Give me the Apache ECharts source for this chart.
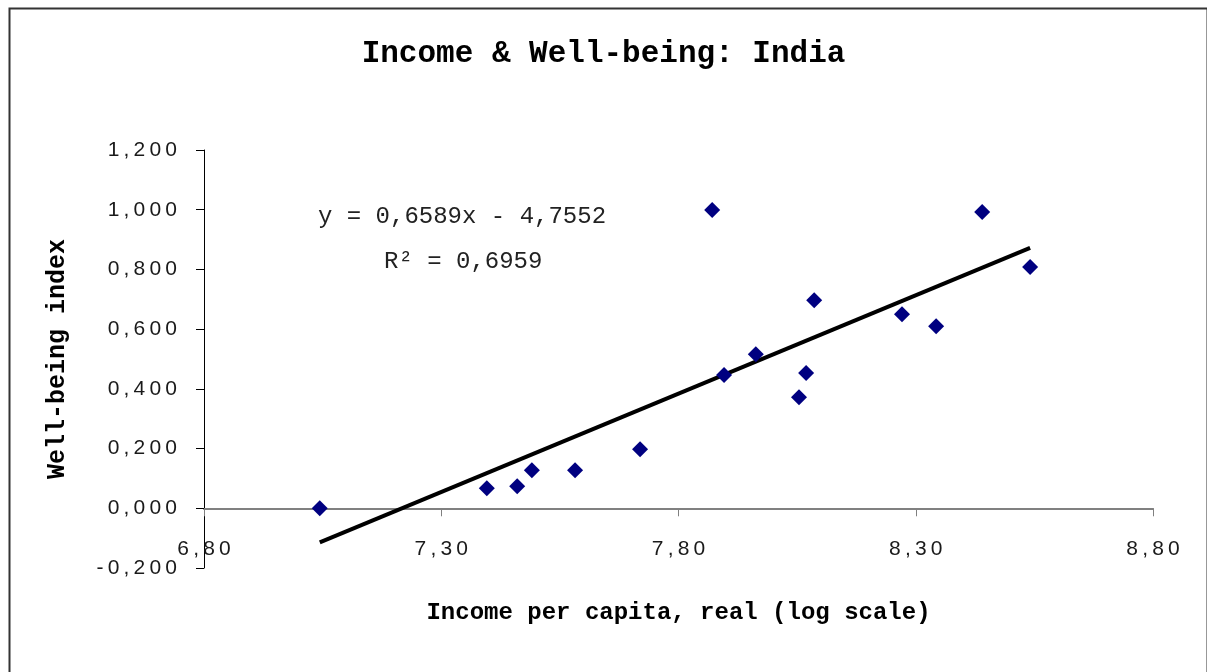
<!DOCTYPE html>
<html>
<head>
<meta charset="utf-8">
<script src="https://cdn.jsdelivr.net/npm/echarts@6/dist/echarts.min.js"></script>
<style>
html,body{margin:0;padding:0;background:#fff;}
#chart{width:1207px;height:672px;}
</style>
</head>
<body>
<div id="chart"></div>
<script>
// Data
const incomeLog = [7.044, 7.396, 7.460, 7.491, 7.582, 7.719, 7.871, 7.896, 7.963, 8.054, 8.069, 8.086, 8.271, 8.343, 8.440, 8.541];
const wellbeing = [0.000, 0.067, 0.074, 0.127, 0.127, 0.198, 0.999, 0.446, 0.516, 0.372, 0.453, 0.697, 0.650, 0.610, 0.992, 0.808];
const xTicks = [6.80, 7.30, 7.80, 8.30, 8.80];
const yTicks = [-0.2, 0, 0.2, 0.4, 0.6, 0.8, 1.0, 1.2];
const trendSlope = 0.6589;
const trendIntercept = -4.7552;
const r2 = 0.6959;
const titleText = 'Income & Well-being: India';
const xName = 'Income per capita, real (log scale)';
const yName = 'Well-being index';

const fmt = (v, d) => v.toFixed(d).replace('.', ',');
const spaced = s => s.split('').join('\u2009');
const tickFont = "'Liberation Sans',Arial,sans-serif";
const monoFont = "'Liberation Mono','DejaVu Sans Mono','Courier New',monospace";

const pts = incomeLog.map((x, i) => [x, wellbeing[i]]);
const xMinD = Math.min(...incomeLog), xMaxD = Math.max(...incomeLog);
const trend = [[xMinD, trendSlope * xMinD + trendIntercept], [xMaxD, trendSlope * xMaxD + trendIntercept]];
const eqText = 'y = ' + fmt(trendSlope, 4) + 'x - ' + fmt(-trendIntercept, 4);
const r2Text = 'R\u00b2 = ' + fmt(r2, 4);

const chart = echarts.init(document.getElementById('chart'), null, {renderer: 'canvas'});
chart.setOption({
  backgroundColor: '#fff',
  animation: false,
  title: {
    text: titleText,
    left: 'center',
    top: 34,
    textStyle: {fontFamily: monoFont, fontWeight: 'bold', fontSize: 31, color: '#000'}
  },
  grid: {left: 204, right: 54, top: 150, bottom: 104, containLabel: false, outerBoundsMode: 'none'},
  xAxis: {
    type: 'value',
    min: 6.8, max: 8.8,
    name: xName,
    nameLocation: 'middle',
    nameGap: 33,
    nameTextStyle: {fontFamily: monoFont, fontWeight: 'bold', fontSize: 24, color: '#000'},
    axisLine: {onZero: true, lineStyle: {color: '#808080', width: 2}},
    axisTick: {show: true, length: 8, customValues: xTicks, lineStyle: {color: '#808080', width: 1}},
    axisLabel: {customValues: xTicks, margin: -29, fontFamily: tickFont, fontSize: 21, color: '#1a1a1a',
      formatter: v => spaced(fmt(v, 2))},
    splitLine: {show: false}
  },
  yAxis: {
    type: 'value',
    min: -0.2, max: 1.2, interval: 0.2,
    name: yName,
    nameLocation: 'middle',
    nameRotate: 90,
    nameGap: 134,
    nameTextStyle: {fontFamily: monoFont, fontWeight: 'bold', fontSize: 25, color: '#000'},
    axisLine: {show: true, onZero: false, lineStyle: {color: '#000', width: 1}},
    axisTick: {show: true, length: 8, customValues: yTicks, lineStyle: {color: '#000', width: 1}},
    axisLabel: {customValues: yTicks, margin: 27, fontFamily: tickFont, fontSize: 21, color: '#1a1a1a',
      formatter: v => spaced(fmt(v, 3))},
    splitLine: {show: false}
  },
  series: [
    {
      type: 'line',
      data: trend,
      showSymbol: false,
      symbol: 'none',
      lineStyle: {color: '#000', width: 4},
      z: 2,
      silent: true
    },
    {
      type: 'scatter',
      data: pts,
      symbol: 'diamond',
      symbolSize: 16,
      itemStyle: {color: '#000080', opacity: 1},
      z: 3
    }
  ],
  graphic: [
    {type: 'rect', left: 7, top: 6, shape: {width: 1198, height: 700},
      style: {fill: 'none', stroke: '#333', lineWidth: 2}, silent: true, z: -1},
    {type: 'text', left: 318, top: 205,
      style: {text: eqText, font: '24px ' + monoFont, fill: '#222'}},
    {type: 'text', left: 384, top: 250,
      style: {text: r2Text, font: '24px ' + monoFont, fill: '#222'}}
  ]
});
</script>
</body>
</html>
